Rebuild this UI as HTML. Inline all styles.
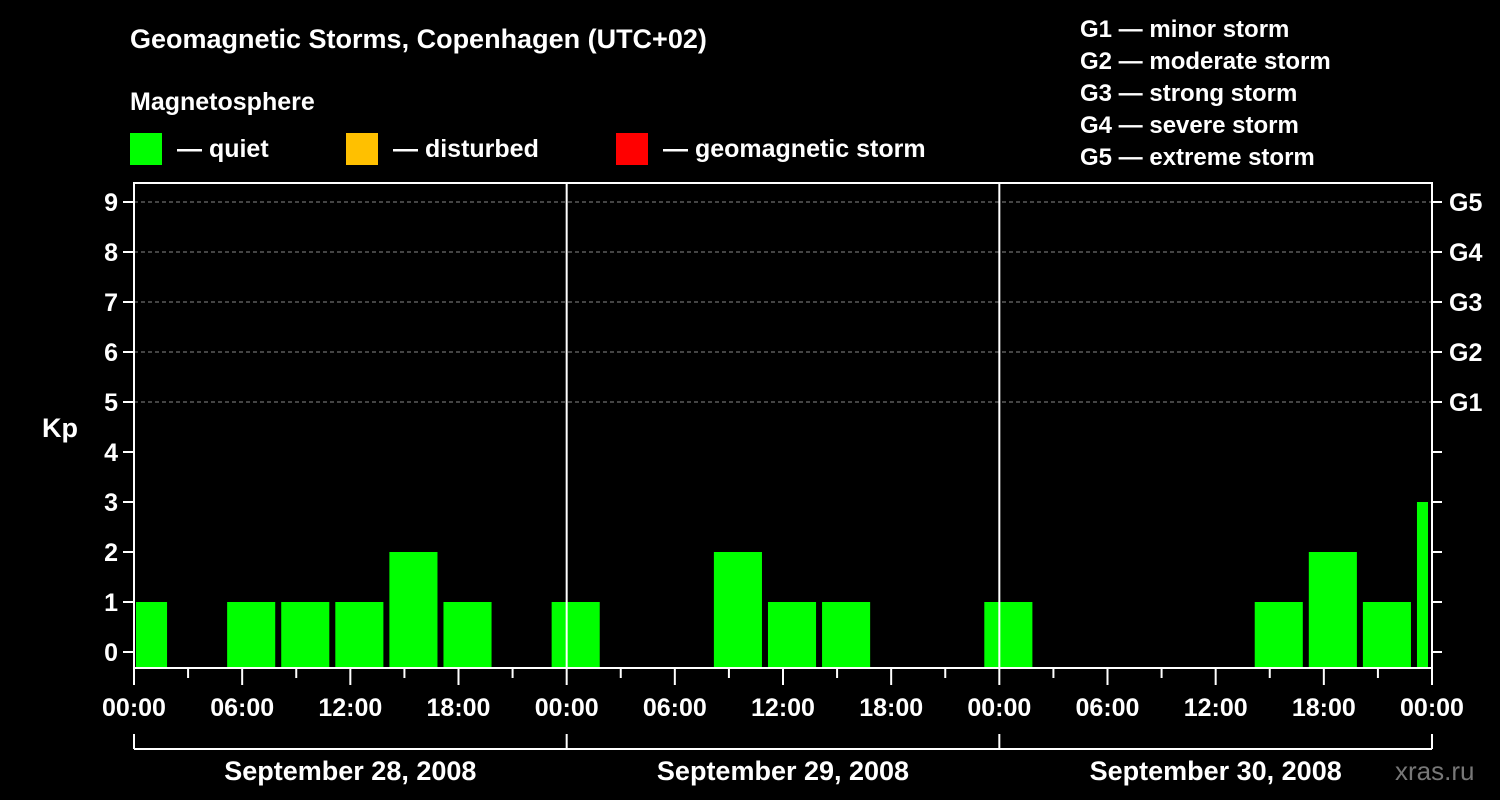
<!DOCTYPE html>
<html><head><meta charset="utf-8"><style>
html,body{margin:0;padding:0;background:#000;}
svg{display:block;font-family:"Liberation Sans",sans-serif;font-weight:bold;}
</style></head><body>
<svg id="chart" width="1500" height="800" viewBox="0 0 1500 800" xmlns="http://www.w3.org/2000/svg">
<rect width="1500" height="800" fill="#000"/>
<text x="130" y="48" fill="#fff" font-size="27">Geomagnetic Storms, Copenhagen (UTC+02)</text>
<text x="130" y="110" fill="#fff" font-size="25">Magnetosphere</text>
<g><rect x="130" y="133" width="32" height="32" fill="#00ff00"/><text x="177" y="157" fill="#fff" font-size="25">— quiet</text></g>
<g><rect x="346" y="133" width="32" height="32" fill="#ffc000"/><text x="393" y="157" fill="#fff" font-size="25">— disturbed</text></g>
<g><rect x="616" y="133" width="32" height="32" fill="#ff0000"/><text x="663" y="157" fill="#fff" font-size="25">— geomagnetic storm</text></g>
<g fill="#fff" font-size="24">
<text x="1080" y="37">G1 — minor storm</text>
<text x="1080" y="69">G2 — moderate storm</text>
<text x="1080" y="101">G3 — strong storm</text>
<text x="1080" y="133">G4 — severe storm</text>
<text x="1080" y="165">G5 — extreme storm</text>
</g>
<text x="42" y="437" fill="#fff" font-size="27">Kp</text>
<text x="1395" y="780" fill="#777" font-size="26" font-weight="normal">xras.ru</text>
<g id="grid"></g><g id="bars"></g><g id="axes"></g>
</svg>
<script>
const kpValues=[1,0,1,1,1,2,1,0,1,0,0,2,1,1,0,0,1,0,0,0,0,1,2,1,3];
const yTicks=[0,1,2,3,4,5,6,7,8,9];
const gLabels=["G1","G2","G3","G4","G5"];
const xTickLabels=["00:00","06:00","12:00","18:00","00:00","06:00","12:00","18:00","00:00","06:00","12:00","18:00","00:00"];
const dayLabels=["September 28, 2008","September 29, 2008","September 30, 2008"];
const L=134,R=1432,T=183,B=668,H0=652,UNIT=50;
const HOURS=72,firstSlotHour=-1;
const xS=h=>L+(h/HOURS)*(R-L);
const yS=v=>H0-v*UNIT;
const NS="http://www.w3.org/2000/svg";
function mk(t,a,p){const e=document.createElementNS(NS,t);for(const k in a)e.setAttribute(k,a[k]);p.appendChild(e);return e;}
const grid=document.getElementById('grid'),bars=document.getElementById('bars'),axes=document.getElementById('axes');
yTicks.forEach(v=>{
 if(v>=5){const l=mk('line',{x1:L,x2:R,y1:yS(v),y2:yS(v),stroke:'#888','stroke-dasharray':'4,3','stroke-width':1},grid);
 
 }
 const t=mk('line',{x1:L-11,x2:L,y1:yS(v),y2:yS(v),stroke:'#fff','stroke-width':2},axes);
 
 
 const t2=mk('line',{x1:R,x2:R+10,y1:yS(v),y2:yS(v),stroke:'#fff','stroke-width':2},axes);
 
 
 const tx=mk('text',{x:L-16,y:yS(v)+9,fill:'#fff','font-size':25,'text-anchor':'end'},axes);
 tx.textContent=v;
 
 
});
gLabels.forEach((g,i)=>{
 const tx=mk('text',{x:R+17,y:yS(5+i)+9,fill:'#fff','font-size':25},axes);
 tx.textContent=g;
 
 
});
kpValues.forEach((v,i)=>{
 if(v<=0)return;
 let x0=xS(firstSlotHour+i*3)+3,x1=xS(firstSlotHour+i*3+3)-3;
 x0=Math.max(x0,L+2);x1=Math.min(x1,R-4);
 const c=v>=5?'#ff0000':(v>=4?'#ffc000':'#00ff00');
 const r=mk('rect',{x:x0,y:yS(v),width:x1-x0,height:B-yS(v),fill:c},bars);
 
 
});
[1,2].forEach(d=>{const l=mk('line',{x1:xS(d*24),x2:xS(d*24),y1:T,y2:B,stroke:'#fff','stroke-width':2},axes);
 
 });
const fr=mk('rect',{x:L,y:T,width:R-L,height:B-T,fill:'none',stroke:'#fff','stroke-width':2},axes);


for(let h=0;h<=HOURS;h+=3){
 const major=h%6===0;
 const t=mk('line',{x1:xS(h),x2:xS(h),y1:B,y2:B+(major?17:10),stroke:'#fff','stroke-width':2},axes);
 
 
}
xTickLabels.forEach((s,i)=>{
 const tx=mk('text',{x:xS(i*6),y:716,fill:'#fff','font-size':25,'text-anchor':'middle'},axes);
 tx.textContent=s;
 
 
});
const br=mk('line',{x1:xS(0),x2:xS(72),y1:749,y2:749,stroke:'#fff','stroke-width':2},axes);


for(let d=0;d<=3;d++){const l=mk('line',{x1:xS(d*24),x2:xS(d*24),y1:734,y2:749,stroke:'#fff','stroke-width':2},axes);
 
 }
dayLabels.forEach((s,i)=>{
 const tx=mk('text',{x:xS(i*24+12),y:780,fill:'#fff','font-size':27,'text-anchor':'middle'},axes);
 tx.textContent=s;
 
 
});
</script>
</body></html>
